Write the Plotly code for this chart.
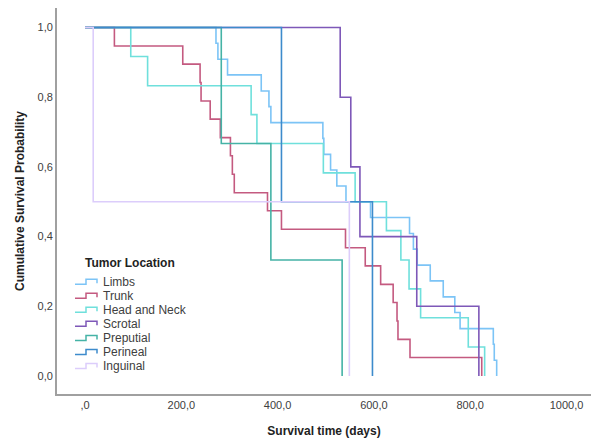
import plotly.graph_objects as go

# ---- data ----
groups = ["Limbs", "Trunk", "Head and Neck", "Scrotal", "Preputial", "Perineal", "Inguinal"]
colors = ["#7cc4f6", "#c45a80", "#6fe0dc", "#7e58b8", "#45b3a6", "#3d8bcc", "#dccdfb"]

limbs_t = [0, 272, 276, 296, 366, 382, 386, 494, 496, 510, 523, 542, 593, 674, 682, 690, 717, 744, 768, 779, 848, 850, 855]
limbs_s = [1.0, 0.955, 0.909, 0.864, 0.818, 0.773, 0.727, 0.682, 0.636, 0.591, 0.545, 0.500, 0.455, 0.409, 0.364,
           0.318, 0.273, 0.227, 0.182, 0.136, 0.091, 0.045, 0.0]

trunk_t = [0, 61, 203, 239, 241, 260, 281, 302, 306, 310, 379, 408, 541, 582, 614, 640, 648, 650, 675, 824]
trunk_s = [1.0, 0.947, 0.895, 0.842, 0.789, 0.737, 0.684, 0.632, 0.579, 0.526, 0.474, 0.421, 0.368, 0.316,
           0.263, 0.211, 0.158, 0.105, 0.053, 0.0]

head_t = [0, 95, 130, 345, 357, 495, 561, 626, 656, 673, 697, 796, 830]
head_s = [1.0, 0.917, 0.833, 0.750, 0.667, 0.583, 0.500, 0.417, 0.333, 0.250, 0.167, 0.083, 0.0]

scrotal_t = [0, 530, 552, 571, 689, 818]
scrotal_s = [1.0, 0.8, 0.6, 0.4, 0.2, 0.0]

preputial_t = [0, 283, 386, 534]
preputial_s = [1.0, 0.667, 0.333, 0.0]

perineal_t = [0, 408, 597]
perineal_s = [1.0, 0.5, 0.0]

inguinal_t = [0, 17, 549]
inguinal_s = [1.0, 0.5, 0.0]

x_tickvals = [0, 200, 400, 600, 800, 1000]
x_ticktext = [",0", "200,0", "400,0", "600,0", "800,0", "1000,0"]
y_tickvals = [0.0, 0.2, 0.4, 0.6, 0.8, 1.0]
y_ticktext = ["0,0", "0,2", "0,4", "0,6", "0,8", "1,0"]

series = [
    (limbs_t, limbs_s), (trunk_t, trunk_s), (head_t, head_s), (scrotal_t, scrotal_s),
    (preputial_t, preputial_s), (perineal_t, perineal_s), (inguinal_t, inguinal_s),
]

FONT = "Arial, 'Liberation Sans', sans-serif"
W, H = 591, 438
ML, MR, MT, MB = 57, 0, 8, 44

fig = go.Figure()
for name, col, (t, s) in zip(groups, colors, series):
    fig.add_trace(go.Scatter(
        x=t, y=s, mode="lines", name=name,
        line=dict(color=col, width=1.6, shape="hv"),
        showlegend=False, hoverinfo="x+y+name",
    ))

# ---- custom legend (step-shaped keys like the original) ----
def px2paper(px, py):
    return (px - ML) / (W - ML - MR), (H - MB - py) / (H - MT - MB)

annotations = []
shapes = []
tx, ty = px2paper(83, 262.5)
annotations.append(dict(xref="paper", yref="paper", x=tx, y=ty, xanchor="left", yanchor="middle",
                        text="<b>Tumor Location</b>", showarrow=False,
                        font=dict(family=FONT, size=12, color="#222222")))
for i, (name, col) in enumerate(zip(groups, colors)):
    cy = 281.7 + i * 14.05
    lx, ly = px2paper(100.5, cy)
    annotations.append(dict(xref="paper", yref="paper", x=lx, y=ly, xanchor="left", yanchor="middle",
                            text=name, showarrow=False,
                            font=dict(family=FONT, size=12, color="#404040")))
    pts = [(75, cy + 2.5), (86, cy + 2.5), (86, cy - 2.5), (97, cy - 2.5), (97, cy + 1.5)]
    path = ""
    for j, (a, b) in enumerate(pts):
        pa, pb = px2paper(a, b)
        path += ("M" if j == 0 else "L") + f"{pa:.5f},{pb:.5f} "
    shapes.append(dict(type="path", xref="paper", yref="paper", path=path.strip(),
                       line=dict(color=col, width=1.5)))

fig.update_layout(
    width=W, height=H,
    margin=dict(l=ML, r=MR, t=MT, b=MB, pad=0),
    plot_bgcolor="white", paper_bgcolor="white",
    font=dict(family=FONT, size=11, color="#404040"),
    annotations=annotations, shapes=shapes,
    showlegend=False,
)
fig.update_xaxes(
    range=[-58.2, 1050.9], tickvals=x_tickvals, ticktext=x_ticktext,
    showgrid=False, zeroline=False, showline=True, linecolor="#a0a0a0", linewidth=1.8,
    ticks="", tickfont=dict(family=FONT, size=11, color="#404040"),
    title=dict(text="<b>Survival time (days)</b>", font=dict(family=FONT, size=12, color="#222222"), standoff=18),
)
fig.update_yaxes(
    range=[-0.0517, 1.056], tickvals=y_tickvals, ticktext=y_ticktext,
    showgrid=False, zeroline=False, showline=True, linecolor="#a0a0a0", linewidth=1.8,
    ticks="", tickfont=dict(family=FONT, size=11, color="#404040"),
    title=dict(text="<b>Cumulative Survival Probability</b>", font=dict(family=FONT, size=12, color="#222222"), standoff=10),
)

fig.write_html("out.html", config={"displayModeBar": False},
               post_script="document.body.style.margin='0px';document.body.style.overflow='hidden';")
